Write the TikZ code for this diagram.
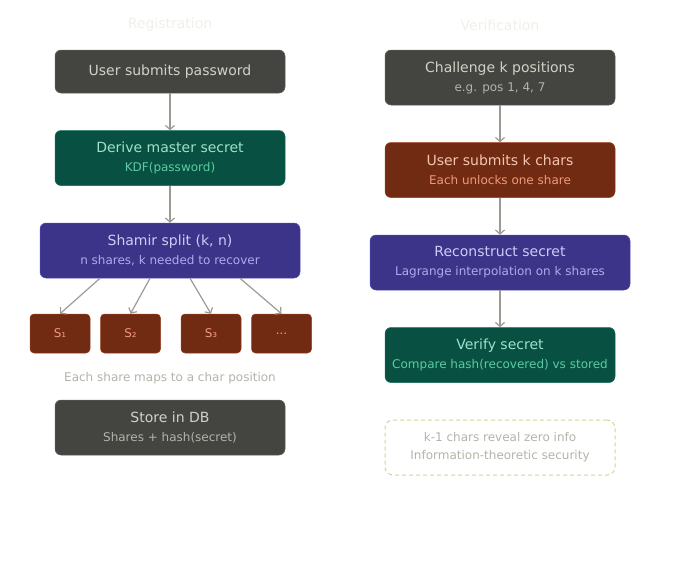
\documentclass[tikz,border=0pt]{standalone}
\usepackage{fontspec}
\setmainfont{DejaVu Sans}
\usetikzlibrary{arrows.meta,positioning}
\definecolor{grisfondo}{HTML}{444441}
\definecolor{grisborde}{HTML}{5F5E5A}
\definecolor{gristexto}{HTML}{D3D1C7}
\definecolor{grissub}{HTML}{B4B2A9}
\definecolor{verdefondo}{HTML}{085041}
\definecolor{verdeborde}{HTML}{0F6E56}
\definecolor{verdetexto}{HTML}{9FE1CB}
\definecolor{verdesub}{HTML}{5DCAA5}
\definecolor{moradofondo}{HTML}{3C3489}
\definecolor{moradoborde}{HTML}{534AB7}
\definecolor{moradotexto}{HTML}{CECBF6}
\definecolor{moradosub}{HTML}{AFA9EC}
\definecolor{corfondo}{HTML}{712B13}
\definecolor{corborde}{HTML}{993C1D}
\definecolor{cortexto}{HTML}{F5C4B3}
\definecolor{corsub}{HTML}{F0997B}
\definecolor{flecha}{HTML}{9C9A92}
\definecolor{lima}{HTML}{C0DD97}
\definecolor{cabecera}{HTML}{F1EFE8}
\newcommand{\subtxt}[2]{{\fontsize{12}{19}\selectfont\color{#1}#2}}

\begin{document}
\begin{tikzpicture}[x=1pt, y=1pt, >={Straight Barb[length=4pt,width=9pt]}, node distance=37pt,
      caja/.style={rounded corners=6pt, align=center, minimum width=230pt, minimum height=55pt,
                   inner sep=0pt, line width=0.5pt, font=\fontsize{14}{19}\selectfont},
      gris/.style={caja, fill=grisfondo, draw=grisborde, text=gristexto},
      verde/.style={caja, fill=verdefondo, draw=verdeborde, text=verdetexto},
      morado/.style={caja, fill=moradofondo, draw=moradoborde, text=moradotexto},
      coral/.style={caja, fill=corfondo, draw=corborde, text=cortexto},
      parte/.style={rounded corners=4pt, fill=corfondo, draw=corborde, line width=0.5pt,
                    minimum width=60pt, minimum height=39pt, inner sep=0pt,
                    text=corsub, font=\fontsize{12}{14}\selectfont},
      nota/.style={text=grissub, align=center, font=\fontsize{12}{18}\selectfont},
      titulo/.style={text=cabecera, font=\fontsize{14}{16}\selectfont},
      linea/.style={->, flecha, line width=1.2pt}]
    \useasboundingbox (0,0) rectangle (680,-560);
    % cabeceras
    \node[titulo] (hreg) at (170,-25) {Registration};
    \node[titulo] (hver) at (500,-25) {Verification};
    % registro
    \node[gris, minimum height=43pt] (pwd) at (170,-71.5) {User submits password};
    \node[verde, below=of pwd] (kdf) {Derive master secret\\ \subtxt{verdesub}{KDF(password)}};
    \node[morado, minimum width=260pt, below=of kdf] (split) {Shamir split (k, n)\\ \subtxt{moradosub}{n shares, k needed to recover}};
    \node[parte] (s1) at (60,-333.5) {S₁};
    \node[parte, right=10pt of s1] (s2) {S₂};
    \node[parte, right=20pt of s2] (s3) {S₃};
    \node[parte, right=10pt of s3] (sn) {...};
    \node[nota] (mapa) at (170,-378) {Each share maps to a char position};
    \node[gris] (db) at (170,-427.5) {Store in DB\\ \subtxt{grissub}{Shares + hash(secret)}};
    \draw[linea] (pwd) -- (kdf);
    \draw[linea] (kdf) -- (split);
    \draw[linea] ([xshift=-70pt]split.south) -- (s1.north);
    \draw[linea] ([xshift=-20pt]split.south) -- (s2.north);
    \draw[linea] ([xshift=20pt]split.south) -- (s3.north);
    \draw[linea] ([xshift=70pt]split.south) -- (sn.north);
    % verificacion
    \node[gris] (reto) at (500,-77.5) {Challenge k positions\\ \subtxt{grissub}{e.g. pos 1, 4, 7}};
    \node[coral, below=of reto] (chars) {User submits k chars\\ \subtxt{corsub}{Each unlocks one share}};
    \node[morado, minimum width=260pt, below=of chars] (recon) {Reconstruct secret\\ \subtxt{moradosub}{Lagrange interpolation on k shares}};
    \node[verde, below=of recon] (verif) {Verify secret\\ \subtxt{verdesub}{Compare hash(recovered) vs stored}};
    \node[caja, rounded corners=8pt, draw=lima, line width=1pt, dash pattern=on 4pt off 3pt,
          text=grissub, font=\fontsize{12}{18}\selectfont] (info) at (500,-447.5)
      {k-1 chars reveal zero info\\ Information-theoretic security};
    \draw[linea] (reto) -- (chars);
    \draw[linea] (chars) -- (recon);
    \draw[linea] (recon) -- (verif);
  \end{tikzpicture}
\end{document}
